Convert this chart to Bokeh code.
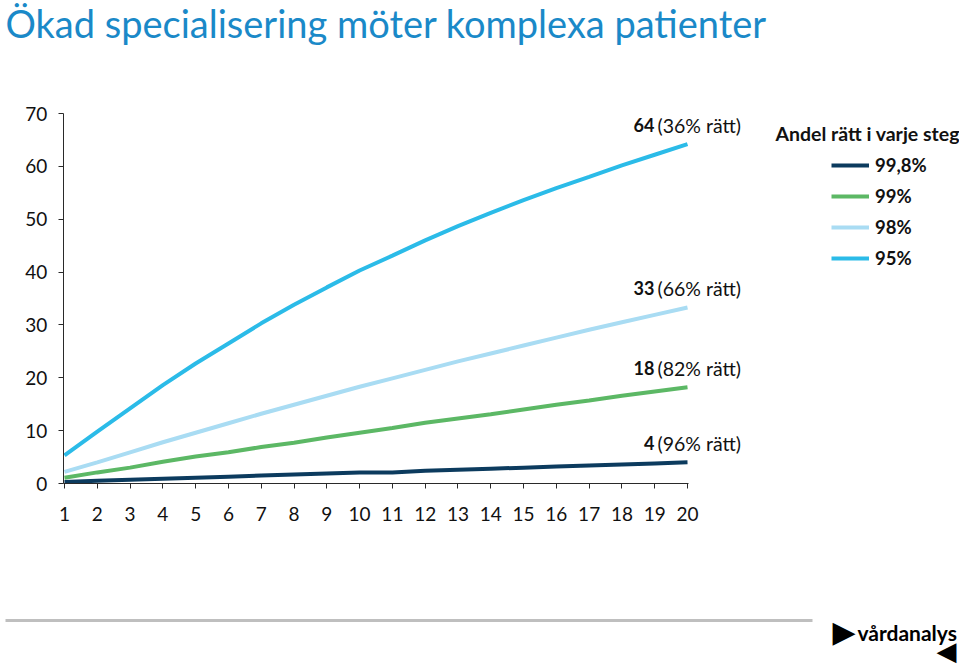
from bokeh.plotting import figure
from bokeh.models import (Label, Legend, LegendItem, BoxAnnotation, FixedTicker, Range1d)
from bokeh.embed import file_html
from bokeh.resources import INLINE

# ---------------- data ----------------
steps = list(range(1, 21))
s998 = [0.3, 0.5, 0.7, 0.9, 1.1, 1.3, 1.5, 1.7, 1.9, 2.1, 2.1, 2.4, 2.6, 2.8, 3.0, 3.2, 3.4, 3.6, 3.8, 4.0]
s99 = [1.1, 2.1, 3.0, 4.1, 5.1, 5.9, 6.9, 7.7, 8.7, 9.6, 10.5, 11.5, 12.3, 13.1, 14.0, 14.9, 15.7, 16.6, 17.4, 18.2]
s98 = [2.2, 4.0, 5.9, 7.8, 9.6, 11.4, 13.2, 14.9, 16.6, 18.3, 19.9, 21.5, 23.1, 24.6, 26.1, 27.6, 29.1, 30.5, 31.9, 33.3]
s95 = [5.3, 9.8, 14.2, 18.6, 22.7, 26.5, 30.3, 33.8, 37.1, 40.3, 43.1, 46.0, 48.7, 51.2, 53.6, 55.9, 58.0, 60.2, 62.2, 64.2]

series_names = ["99,8%", "99%", "98%", "95%"]
series_values = [s998, s99, s98, s95]
end_numbers = ["4", "18", "33", "64"]
end_suffix = ["(96% rätt)", "(82% rätt)", "(66% rätt)", "(36% rätt)"]
y_ticks = [0, 10, 20, 30, 40, 50, 60, 70]

title_text = "Ökad specialisering möter komplexa patienter"
legend_title = "Andel rätt i varje steg"
logo_text = "vårdanalys"

colors = ["#0c3b5e", "#5cb865", "#a9dcf3", "#2bbbe8"]
FONT = "Lato"

# ---------------- layout geometry (pixels) ----------------
W, H = 959, 666
PX_X1, PX_X20 = 64.0, 687.0      # pixel of step 1 and step 20
PX_Y0, PX_Y70 = 483.0, 113.0     # pixel of value 0 and 70
AXIS_PX = 62.7                    # y axis line
kx = (PX_X20 - PX_X1) / (steps[-1] - steps[0])
ky = (PX_Y0 - PX_Y70) / (y_ticks[-1] - y_ticks[0])
x_start = steps[0] - PX_X1 / kx
x_end = steps[0] + (W - PX_X1) / kx
y_start = -(H - PX_Y0) / ky
y_end = PX_Y0 / ky
x_axis_at = steps[0] + (AXIS_PX - PX_X1) / kx

p = figure(width=W, height=H, output_backend="svg", toolbar_location=None,
           x_range=Range1d(x_start, x_end), y_range=Range1d(y_start, y_end),
           min_border_left=0, min_border_right=0, min_border_top=0, min_border_bottom=0)
p.outline_line_color = None
p.grid.visible = False
p.background_fill_color = "white"
p.border_fill_color = "white"

for ax in (p.xaxis[0], p.yaxis[0]):
    ax.axis_line_color = "#2a2a2a"
    ax.major_tick_line_color = "#2a2a2a"
    ax.minor_tick_line_color = None
    ax.major_tick_in = 0
    ax.major_tick_out = 5
    ax.major_label_text_font = FONT
    ax.major_label_text_font_size = "19px"
    ax.major_label_text_color = "#111111"

p.xaxis.ticker = FixedTicker(ticks=steps)
p.yaxis.ticker = FixedTicker(ticks=y_ticks)
p.xaxis.fixed_location = 0
p.yaxis.fixed_location = x_axis_at
p.xaxis.bounds = (x_axis_at, steps[-1] + 0.03)
p.yaxis.bounds = (y_ticks[0], y_ticks[-1])
p.xaxis.major_label_standoff = 18
p.yaxis.major_label_standoff = 11

renderers = []
for name, vals, col in zip(series_names, series_values, colors):
    r = p.line(steps, vals, line_width=4, line_color=col)
    renderers.append((name, r))

# screen coordinates from reference pixel positions (frame == canvas)
def sx(rx):
    return rx
def sy(ry):
    return H - ry

# end labels
for num, suf, vals in zip(end_numbers, end_suffix, series_values):
    p.add_layout(Label(x=steps[-1], y=vals[-1], x_offset=-33, y_offset=19, text=num,
                       text_align="right", text_baseline="middle", text_font=FONT,
                       text_font_style="bold", text_font_size="18px", text_color="#111111"))
    p.add_layout(Label(x=steps[-1], y=vals[-1], x_offset=-30, y_offset=19, text=suf,
                       text_align="left", text_baseline="middle", text_font=FONT,
                       text_font_size="19.5px", text_color="#111111"))

# legend
legend = Legend(items=[LegendItem(label=n, renderers=[r]) for n, r in renderers],
                location=(sx(831), sy(269)), orientation="vertical",
                glyph_width=38, glyph_height=18, label_height=18, spacing=9,
                label_standoff=6, padding=0, margin=0,
                border_line_alpha=0, background_fill_alpha=0,
                label_text_font=FONT, label_text_font_style="bold",
                label_text_font_size="18.5px", label_text_color="#111111")
p.add_layout(legend, "center")

p.add_layout(Label(x=sx(775), y=sy(133), x_units="screen", y_units="screen", text=legend_title,
                   text_align="left", text_baseline="middle", text_font=FONT,
                   text_font_style="bold", text_font_size="19.5px", text_color="#111111"))

# title
p.add_layout(Label(x=sx(5), y=sy(22), x_units="screen", y_units="screen", text=title_text,
                   text_align="left", text_baseline="middle", text_font=FONT,
                   text_font_size="38px", text_color="#1a89c8"))

# footer rule and logo
p.add_layout(BoxAnnotation(left=sx(5), right=sx(812), top=sy(618.5), bottom=sy(621.5),
                           left_units="screen", right_units="screen",
                           top_units="screen", bottom_units="screen",
                           fill_color="#bfbfbf", fill_alpha=1, line_color=None))
p.add_layout(Label(x=sx(832), y=sy(631), x_units="screen", y_units="screen", text="▶",
                   text_align="left", text_baseline="middle", text_font="DejaVu Sans",
                   text_font_size="30px", text_color="#000000"))
p.add_layout(Label(x=sx(857), y=sy(632), x_units="screen", y_units="screen", text=logo_text,
                   text_align="left", text_baseline="middle", text_font=FONT,
                   text_font_style="bold", text_font_size="21px", text_color="#000000"))
p.add_layout(Label(x=sx(956), y=sy(650), x_units="screen", y_units="screen", text="◀",
                   text_align="right", text_baseline="middle", text_font="DejaVu Sans",
                   text_font_size="26px", text_color="#000000"))

open("out.html", "w").write(file_html(p, INLINE))
